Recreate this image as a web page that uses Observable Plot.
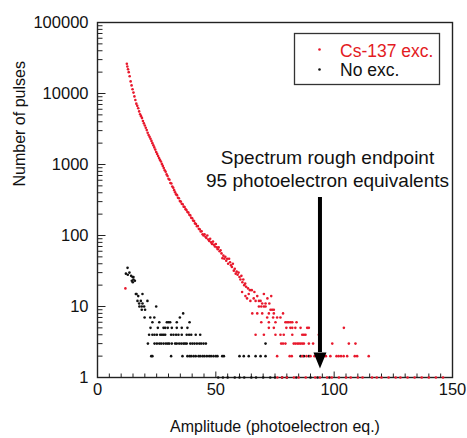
<!DOCTYPE html>
<html><head><meta charset="utf-8">
<script src="https://cdn.jsdelivr.net/npm/d3@7"></script>
<script src="https://cdn.jsdelivr.net/npm/@observablehq/plot@0.6"></script>
<style>
body{margin:0;background:#fff;}
#chart{width:467px;height:438px;}
svg text{font-family:"Liberation Sans",Arial,sans-serif;}
</style></head><body><div id="chart"></div>
<script>
// ---- data ----
// Cs-137 excitation: dense part of the spectrum (amplitude, pulses)
const csCurveX = [12.4,12.6,12.9,13.2,13.6,14.0,14.4,14.8,15.2,15.6,16.0,16.4,16.8,17.2,17.6,18.0,18.4,18.8,19.2,19.6,20.0,20.4,20.8,21.2,21.6,22.0,22.4,22.8,23.2,23.6,24.0,24.4,24.8,25.2,25.6,26.0,26.4,26.8,27.2,27.6,28.0,28.4,28.8,29.2,29.6,30.0,30.4,30.8,31.2,31.6,32.0,32.4,32.8,33.2,33.6,34.0,34.4,34.8,35.2,35.6,36.0,36.4,36.8,37.2,37.6,38.0,38.4,38.8,39.2,39.6,40.0,40.4,40.8,41.2,41.6,42.0,42.4,42.8,43.2,43.6,44.0,44.4,44.8,45.2,45.6,46.0,46.4,46.8,47.2,47.6,48.0,48.4,48.8,49.2,49.6,50.0,50.4,50.8,51.2,51.6,52.0,52.4,52.8,53.2,53.6,54.0,54.4,54.8,55.2,55.6,56.0,56.4,56.8,57.2,57.6,58.0,58.4,58.8,59.2,59.6,60.0,60.4,60.8,61.2,61.6,62.0,62.4,62.8,63.6,64.4,65.2,11.8];
const csCurveY = [26300,24000,22000,20000,17500,14800,13000,11500,10300,9100,8100,7200,6700,6200,5600,5100,4800,4500,4100,3800,3550,3300,3050,2800,2600,2450,2300,2150,2000,1860,1740,1620,1500,1410,1320,1230,1160,1100,1020,955,890,830,790,725,690,630,610,550,540,490,470,435,405,380,370,340,335,305,300,280,275,255,252,235,228,214,210,196,192,178,175,162,160,148,145,135,136,124,122,114,115,104,100,104,96,92,100,88,84,90,80,76,82,74,70,76,68,64,68,60,62,56,48,52,47,50,44,47,40,47,42,38,36,40,32,34,29,31,28,30,26,24,27,22,24,20,21,19,18,17,17,18];
// Cs-137 excitation: low-count tail, [pulses, amplitudes]
const csTail = [
  [16,[61.1,66.3]],
  [15,[63.9,70.3]],
  [14,[62.5,67.5,73.4]],
  [13,[63.2,66.0,71.8]],
  [12,[64.6,66.8,68.2,68.9]],
  [11,[69.6,71.0,72.6]],
  [10,[68.2,69.2,70.3,71.0]],
  [9,[73.1,73.8,74.5]],
  [8,[65.4,67.5,69.6,72.4,74.5,78.4]],
  [7,[71.7,74.2,75.9,77.3]],
  [6,[69.2,72.4,75.2,79.4,80.1,80.8,81.6,82.3,84.1]],
  [5,[72.4,74.5,79.8,81.5,82.3,83.6,85.8,88.6,89.3,104.1]],
  [4,[66.8,70.3,75.2,77.3,78.7,82.3,86.5,87.2,87.9,93.5]],
  [3,[77.6,78.4,79.4,82.9,83.6,84.4,85.1,85.8,86.5,87.2,89.3,91.1,99.2,106.2,109.0]],
  [2,[75.9,81.2,82.1,86.5,88.3,90.0,91.7,95.6,96.5,98.4,101.0,101.9,102.9,104.0,105.5,108.7,109.7,114.6]],
  [1,[76,78,80,83,85,88,92,94,97,99,102,105,107,110,112,116,118,120,123,126,128,131,134,137,140,143,146]]
];
// No excitation: upper cluster (amplitude, pulses)
const noClusterX = [12.7,12.0,12.8,13.5,14.2,14.8,15.2,14.5,15.2,15.8,14.9,16.2,16.5,17.2,19.0,16.9,18.3,21.1,17.6,19.0,17.7,18.7,19.7,24.8,18.7,20.1,36.2];
const noClusterY = [35,29,28,30,27,26,26,23,24,23,22,15,15,14,15,12,12,12,11,11,10,10,10,10,9,9,8];
// No excitation: low-count rows, [pulses, amplitudes]
const noTail = [
  [7,[19.9,22.3,24.0,34.8]],
  [6,[23.2,26.1,29.3,30.0,30.7,33.5,38.9]],
  [5,[22.4,25.5,27.9,28.6,29.7,31.4,33.5,35.6,38.0]],
  [4,[21.8,23.2,24.1,25.1,26.5,27.2,27.9,28.6,31.1,32.1,33.2,34.2,35.6,37.7,38.7,39.6,41.5,43.4]],
  [3,[21.3,24.1,25.1,26.1,26.9,27.9,28.9,29.7,30.3,31.4,32.8,33.5,34.5,35.4,36.3,37.0,37.7,39.2,40.1,41.0,42.0,43.0,43.8,44.8,45.8,71.0]],
  [2,[22.7,23.2,31.1,35.9,38.0,38.9,39.6,40.6,41.5,42.7,43.4,44.4,45.2,46.2,47.2,48.0,49.0,50.0,50.7,52.7,53.4,60.0,61.8,63.9,66.8,68.9,71.0,85.8,87.2,89.3]],
  [1,[51,53,55,58,60,62,65,67,70,73,75,78,80,84,90,93,98]]
];
// ticks
const xMajor = [0, 50, 100, 150];
const xMinor = d3.range(5, 150, 5).filter(v => v % 50 !== 0);
const yMajor = [1, 10, 100, 1000, 10000, 100000];
const yMinor = [1, 10, 100, 1000, 10000].flatMap(d => [2,3,4,5,6,7,8,9].map(k => k * d));
// annotation
const arrowX = [94], arrowTop = [343], arrowBase = [2.25];
const noteX = 97.2, noteLines = ["Spectrum rough endpoint", "95 photoelectron equivalents"], noteY = [1250, 585];
const seriesNames = ["Cs-137 exc.", "No exc."];

// ---- build ----
const red = "#e8182c";
const cs = [
  ...csCurveX.map((x, i) => ({x, y: csCurveY[i]})),
  ...csTail.flatMap(([c, xs]) => xs.map(x => ({x, y: c})))
];
const no = [
  ...noClusterX.map((x, i) => ({x, y: noClusterY[i]})),
  ...noTail.flatMap(([c, xs]) => xs.map(x => ({x, y: c})))
];
const tickRight = L => ({draw(ctx){ ctx.moveTo(0,0); ctx.lineTo(L,0); }});
const tickUp = L => ({draw(ctx){ ctx.moveTo(0,0); ctx.lineTo(0,-L); }});
const head = {draw(ctx){ ctx.moveTo(-6.5,0); ctx.lineTo(6.5,0); ctx.lineTo(0,16); ctx.closePath(); }};

const chart = Plot.plot({
  width: 467, height: 438,
  marginLeft: 97, marginRight: 15, marginTop: 22, marginBottom: 61,
  style: {background: "#fff", color: "#111", fontFamily: '"Liberation Sans", Arial, sans-serif', fontSize: "16.5px", overflow: "visible"},
  x: {domain: [0, 150]},
  y: {type: "log", domain: [1, 100000]},
  marks: [
    Plot.axisY(yMajor, {tickSize: 0, tickPadding: 9, tickFormat: d => String(d), label: null, fontSize: 16.5}),
    Plot.axisX(xMajor, {tickSize: 0, tickPadding: 6, tickFormat: d => String(d), label: null, fontSize: 16.5}),
    Plot.dot(yMajor, {x: () => 0, y: d => d, symbol: tickRight(8), stroke: "#222", fill: "none", strokeWidth: 1}),
    Plot.dot(yMinor, {x: () => 0, y: d => d, symbol: tickRight(5), stroke: "#222", fill: "none", strokeWidth: 1}),
    Plot.dot(xMajor, {x: d => d, y: () => 1, symbol: tickUp(6), stroke: "#222", fill: "none", strokeWidth: 1}),
    Plot.dot(xMinor, {x: d => d, y: () => 1, symbol: tickUp(4), stroke: "#222", fill: "none", strokeWidth: 1}),
    Plot.frame({stroke: "#222", strokeWidth: 1.4}),
    Plot.dot(no, {x: "x", y: "y", r: 1.3, fill: "#111", stroke: "none"}),
    Plot.dot(cs, {x: "x", y: "y", r: 1.3, fill: red, stroke: "none"}),
    Plot.ruleX(arrowX, {x: d => d, y1: arrowTop, y2: arrowBase, stroke: "#000", strokeWidth: 4}),
    Plot.dot(arrowX, {x: d => d, y: arrowBase, symbol: head, fill: "#000", stroke: "none"}),
    Plot.text(noteLines, {x: () => noteX, y: (d, i) => noteY[i], fontSize: 19, fill: "#111", lineAnchor: "middle"}),
    Plot.text(["Number of pulses"], {frameAnchor: "left", rotate: -90, dx: -77.5, dy: -13.5, fontSize: 16, fill: "#111", lineAnchor: "middle"}),
    Plot.text(["Amplitude (photoelectron eq.)"], {frameAnchor: "bottom", dy: 49, fontSize: 16, fill: "#111", lineAnchor: "middle", letterSpacing: "0.5px"})
  ]
});

// legend inside the frame
const svg = d3.select(chart);
const lg = svg.append("g").attr("text-anchor", "start");
lg.append("rect").attr("x", 294.5).attr("y", 33.5).attr("width", 145).attr("height", 51)
  .attr("fill", "#fff").attr("stroke", "#333").attr("stroke-width", 1.3);
const lgColors = [red, "#111"];
seriesNames.forEach((name, i) => {
  lg.append("circle").attr("cx", 319.5).attr("cy", 49.5 + i * 20).attr("r", 1.3).attr("fill", lgColors[i]);
  lg.append("text").attr("x", 340).attr("y", 56.5 + i * 19.5).attr("font-size", 17.5)
    .attr("text-anchor", "start")
    .attr("fill", i === 0 ? "#e31b23" : "#111").text(name);
});
document.getElementById("chart").appendChild(chart);
</script>
</body></html>
